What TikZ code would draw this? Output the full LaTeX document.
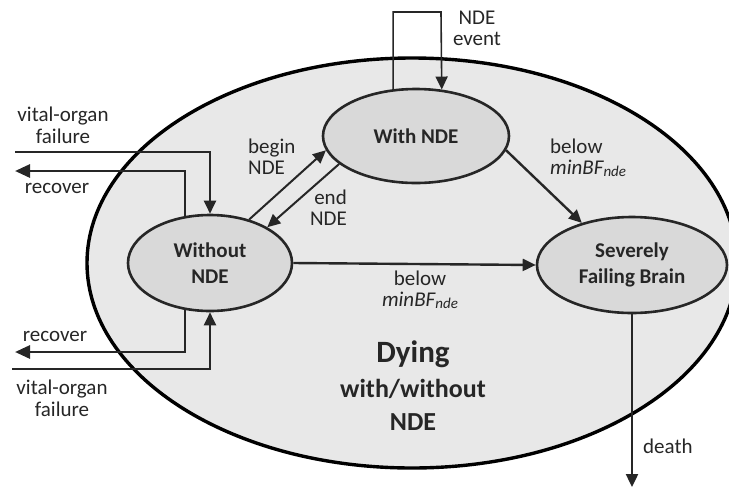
\documentclass[tikz,border=0pt]{standalone}
\usepackage{fontspec}
\setmainfont{Carlito}
\usetikzlibrary{shapes.geometric,arrows.meta}
\definecolor{ink}{HTML}{262626}
\definecolor{outerfill}{HTML}{E8E8E8}
\definecolor{innerfill}{HTML}{D9D9D9}
\begin{document}
\begin{tikzpicture}[x=1pt,y=-1pt,
  state/.style={ellipse, draw=ink, fill=innerfill, line width=2.6pt, inner sep=0pt,
    align=center, font=\fontsize{21}{26}\selectfont\bfseries, text=ink},
  lbl/.style={font=\fontsize{21}{21}\selectfont, text=ink, inner sep=0pt},
  tip/.style={-{Triangle[length=13pt,width=12pt]}},
  thinarr/.style={tip, draw=ink, line width=2pt},
  thickarr/.style={-{Triangle[length=15pt,width=13pt]}, draw=ink, line width=2.8pt},
  medarr/.style={tip, draw=ink, line width=2.4pt},
  looparr/.style={tip, draw=ink, line width=1.6pt}]
\useasboundingbox (0,0) rectangle (729,491);
\node[ellipse, draw=black, fill=outerfill, line width=3.4pt, minimum width=650pt,
  minimum height=410pt, inner sep=0pt] (dying) at (412,263) {};
\node[state, minimum width=164pt, minimum height=96pt] (without) at (210,263) {Without\\NDE};
\node[state, minimum width=186pt, minimum height=94pt] (withnde) at (416,136) {With NDE};
\node[state, minimum width=190pt, minimum height=96pt] (severe) at (632,265) {Severely\\Failing Brain};

% coordinates for free ends
\coordinate (vtin) at (15,152);
\coordinate (rtout) at (15,171);
\coordinate (rbout) at (15,352);
\coordinate (vbin) at (12,369);
\coordinate (loopr) at (441,12);
\coordinate (deathend) at (632,487);

% vital-organ failure (top) and recover (top)
\draw[thinarr] (vtin) -| (without.north);
\draw[thickarr] (without.118) |- (rtout);
% recover (bottom) and vital-organ failure (bottom)
\draw[thickarr] (without.242) |- (rbout);
\draw[thinarr] (vbin) -| (without.south);

% begin / end NDE
\draw[thinarr] (without.48) -- (withnde.189);
\draw[thinarr] (withnde.200) -- (without.32);

% NDE event loop
\draw[looparr] (withnde.116) |- (loopr) -- (withnde.61);

% below minBF
\draw[medarr] (withnde.351) -- (severe.140);
\draw[medarr] (without.east) -- (severe.west);

% death
\draw[medarr] (severe.south) -- (deathend);

% labels (anchor base = baseline of the last line)
\node[lbl, align=center, font=\fontsize{21}{22}\selectfont, anchor=base] (lvt) at (63,143) {vital-organ\\failure};
\node[lbl, anchor=base] (lrt) at (57,193) {recover};
\node[lbl, anchor=base] (lrb) at (55,341) {recover};
\node[lbl, align=center, font=\fontsize{21}{22}\selectfont, anchor=base] (lvb) at (62,416) {vital-organ\\failure};
\node[lbl, align=left, anchor=base west] (lbegin) at (248,174) {begin\\NDE};
\node[lbl, align=right, anchor=base east] (lend) at (347,225) {end\\NDE};
\node[lbl, align=center, anchor=base] (levent) at (477,45) {NDE\\event};
\node[lbl, align=left, anchor=base west] (lbelow1) at (550,174) {below\\\textit{minBF\raisebox{-2pt}{\fontsize{15}{15}\selectfont nde}}};
\node[lbl, align=center, anchor=base] (lbelow2) at (420,306) {below\\\textit{minBF\raisebox{-2pt}{\fontsize{15}{15}\selectfont nde}}};
\node[lbl, anchor=base west] (ldeath) at (643,453) {death};

\node[text=ink, font=\fontsize{31}{31}\selectfont\bfseries, inner sep=0pt, anchor=base] (t1) at (413,362) {Dying};
\node[text=ink, font=\fontsize{26}{26}\selectfont\bfseries, inner sep=0pt, anchor=base] (t2) at (413,397) {with/without};
\node[text=ink, font=\fontsize{26}{26}\selectfont\bfseries, inner sep=0pt, anchor=base] (t3) at (413,430) {NDE};
\end{tikzpicture}
\end{document}
